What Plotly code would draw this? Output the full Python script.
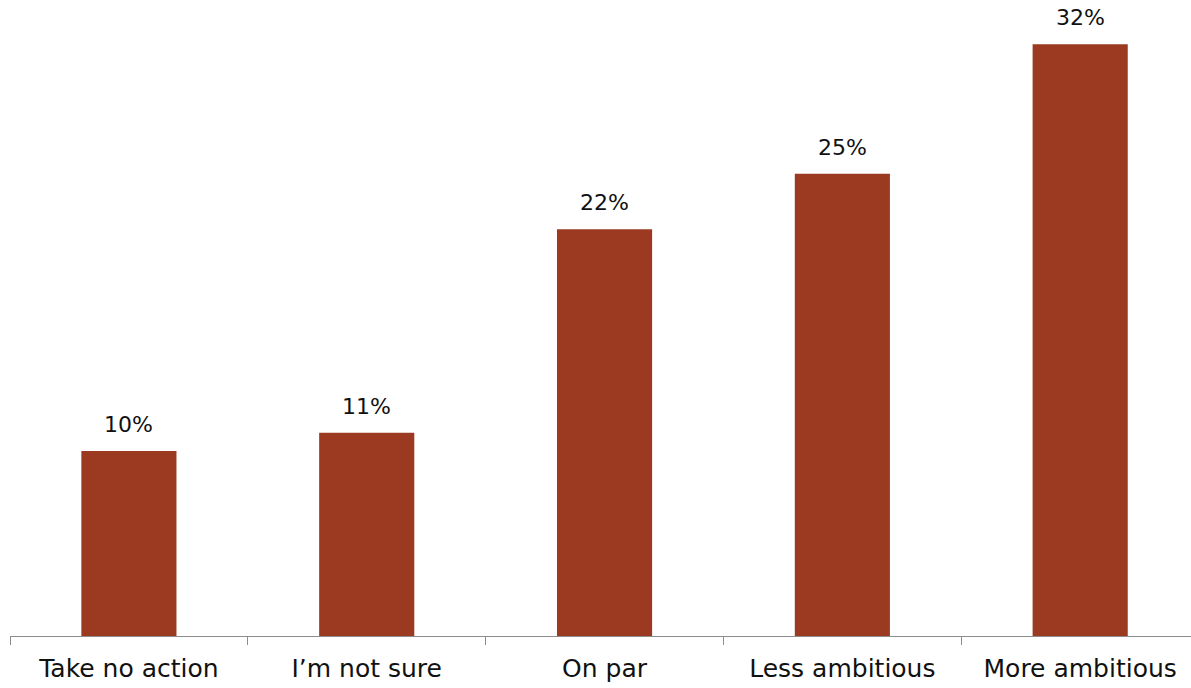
import plotly.graph_objects as go

categories = ["Take no action", "I\u2019m not sure", "On par", "Less ambitious", "More ambitious"]
values = [10, 11, 22, 25, 32]
labels = ["10%", "11%", "22%", "25%", "32%"]

bar_color = "#9B3921"
font_family = "DejaVu Sans"

fig = go.Figure(
    go.Bar(
        x=categories,
        y=values,
        marker=dict(color=bar_color, line=dict(width=0)),
        width=0.4,
        hoverinfo="x+y",
    )
)

# value labels sit above each bar
for cat, val, lab in zip(categories, values, labels):
    fig.add_annotation(
        x=cat,
        y=val,
        text=lab,
        showarrow=False,
        yanchor="bottom",
        yshift=12,
        font=dict(family=font_family, size=22, color="#111111"),
    )

fig.update_layout(
    width=1191,
    height=688,
    margin=dict(l=10, r=0, t=0, b=52),
    paper_bgcolor="white",
    plot_bgcolor="white",
    showlegend=False,
    font=dict(family=font_family, color="#111111"),
)

fig.update_xaxes(
    range=[-0.5, 4.466],
    tickson="boundaries",
    ticks="outside",
    ticklen=8,
    tickcolor="#8c8c8c",
    showline=True,
    linecolor="#8c8c8c",
    linewidth=1,
    showgrid=False,
    ticklabelstandoff=10,
    tickfont=dict(family=font_family, size=25, color="#111111"),
)

fig.update_yaxes(
    range=[0, 34.4],
    visible=False,
    showgrid=False,
)

fig.write_html("out.html")
